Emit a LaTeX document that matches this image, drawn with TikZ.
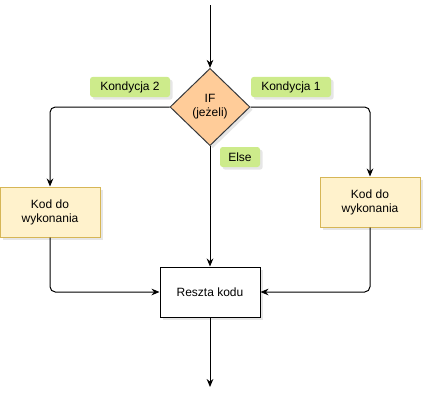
\documentclass[tikz,border=0pt]{standalone}
\usepackage{fontspec}
\setmainfont{Liberation Sans}
\usetikzlibrary{shapes.geometric,arrows.meta,shadows}
\definecolor{ifFill}{HTML}{FFCC99}
\definecolor{ifLine}{HTML}{36393D}
\definecolor{codeFill}{HTML}{FFF2CC}
\definecolor{codeLine}{HTML}{D6B656}
\definecolor{condFill}{HTML}{CDEB8B}
\tikzset{
	shade/.style={drop shadow={opacity=0.2,shadow xshift=2pt,shadow yshift=-2pt}},
	cond/.style={diamond,draw=ifLine,fill=ifFill,minimum width=60pt,minimum height=58pt,inner sep=0pt,align=center,shade},
	code/.style={rectangle,draw=codeLine,fill=codeFill,minimum width=75pt,minimum height=37.5pt,align=center,shade},
	rest/.style={rectangle,draw,fill=white,minimum width=75pt,minimum height=37.5pt,align=center,shade},
	tag/.style={rectangle,rounded corners=2pt,fill=condFill,minimum height=15pt,inner xsep=4pt,shade}
}
\begin{document}
\begin{tikzpicture}[x=0.75pt,y=-0.75pt,font=\fontsize{9}{10.5}\selectfont,line width=0.75pt,>={Stealth[length=6pt,width=5pt]}]
		\useasboundingbox (0,0) rectangle (432,407);
		\node[cond](if) at (210,107){IF\\(jeżeli)};
		\node[code](code2) at (50,212){Kod do\\wykonania};
		\node[code](code1) at (370,202){Kod do\\wykonania};
		\node[rest](rest) at (210,292){Reszta kodu};
		\coordinate (in) at (210,5);
		\coordinate (out) at (210,387);
		\node[tag,minimum width=60pt](k2) at (130,87){Kondycja 2};
		\node[tag,minimum width=60pt](k1) at (291,87){Kondycja 1};
		\node[tag,minimum width=30pt](else) at (240,157){Else};
		\draw[->] (in) -- (if.north);
		\draw[->,rounded corners=4pt] (if.west) -| (code2.north);
		\draw[->,rounded corners=4pt] (if.east) -| (code1.north);
		\draw[->] (if.south) -- (rest.north);
		\draw[->,rounded corners=4pt] (code2.south) |- (rest.west);
		\draw[->,rounded corners=4pt] (code1.south) |- (rest.east);
		\draw[->] (rest.south) -- (out);
\end{tikzpicture}
\end{document}
